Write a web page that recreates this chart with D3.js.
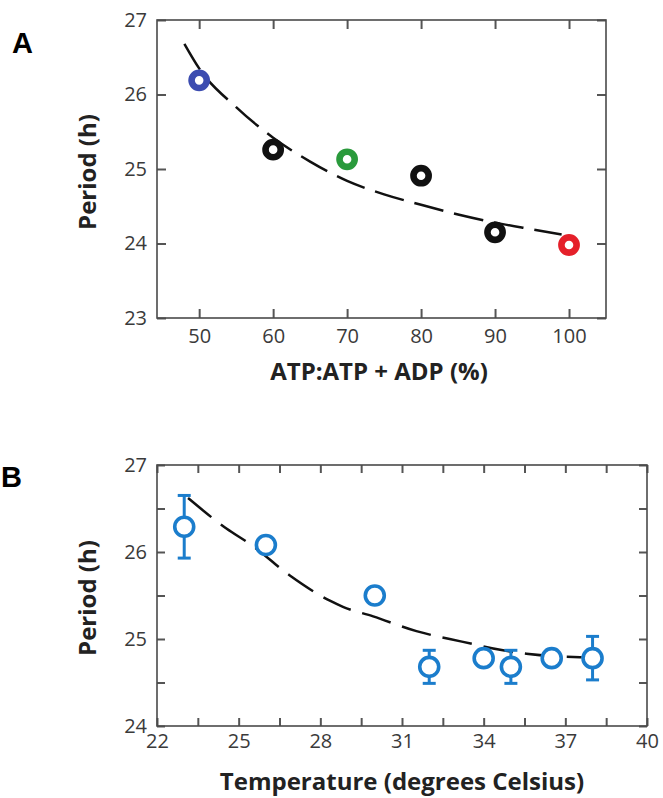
<!DOCTYPE html>
<html><head><meta charset="utf-8">
<script src="https://cdn.jsdelivr.net/npm/d3@7"></script>
<style>
body{margin:0;background:#fff;}
svg{display:block;}
.tick text{font-family:"Open Sans","Noto Sans",sans-serif;font-size:20px;fill:#3a3a3a;}
.tick line{stroke:#555;stroke-width:2;}
.ttl{font-family:"Open Sans","Noto Sans",sans-serif;font-weight:700;font-size:24px;fill:#222;}
</style></head>
<body>
<svg id="c" width="663" height="798"></svg>
<script>
// ---- Panel A data ----
const atpPct = [50, 60, 70, 80, 90, 100];
const atpPeriod = [26.19, 25.26, 25.13, 24.91, 24.15, 23.98];
const atpFitX = [48, 50, 55, 60, 65, 70, 75, 80, 85, 90, 95, 99];
const atpFitY = [26.68, 26.35, 25.83, 25.42, 25.10, 24.84, 24.66, 24.52, 24.39, 24.28, 24.19, 24.12];
const atpXTicks = [50, 60, 70, 80, 90, 100];
const atpYTicks = [23, 24, 25, 26, 27];

// ---- Panel B data ----
const temp = [23, 26, 30, 32, 34, 35, 36.5, 38];
const tempPeriod = [26.29, 26.08, 25.50, 24.68, 24.78, 24.68, 24.78, 24.78];
const tempErr = [0.36, 0, 0, 0.19, 0, 0.19, 0, 0.25];
const tempFitX = [23.14, 24.55, 25.47, 26.88, 28.35, 28.83, 29.94, 31.53, 33.2, 34.71, 35.57, 37.6];
const tempFitY = [26.62, 26.27, 26.08, 25.73, 25.44, 25.37, 25.26, 25.09, 24.97, 24.87, 24.83, 24.79];
const tempXTicks = [22, 23.5, 25, 26.5, 28, 29.5, 31, 32.5, 34, 35.5, 37, 38.5, 40];
const tempXLabels = [22, 25, 28, 31, 34, 37, 40];
const tempYTicks = [24, 24.5, 25, 25.5, 26, 26.5, 27];

const atpColors = ["#3c4cb0", "#111111", "#2a9a3c", "#111111", "#111111", "#e5202a"];
const blue = "#1b7dcc";

const svg = d3.select("#c");
svg.append("rect").attr("width", 663).attr("height", 798).attr("fill", "#fff");

function frame(g, L, R, T, B) {
  g.append("rect").attr("x", L).attr("y", T).attr("width", R - L).attr("height", B - T)
    .attr("fill", "none").attr("stroke", "#4a4a4a").attr("stroke-width", 1.6);
}
function cleanAxis(sel) { sel.select(".domain").remove(); }

// ================= Panel A =================
{
  const L = 157, R = 606, T = 20, B = 318;
  const x = d3.scaleLinear().domain([44.3, 105]).range([L, R]);
  const y = d3.scaleLinear().domain([23, 27]).range([B, T]);
  const g = svg.append("g");

  g.append("g").attr("transform", `translate(0,${B})`)
    .call(d3.axisBottom(x).tickValues(atpXTicks).tickSize(-9).tickPadding(11)).call(cleanAxis);
  g.append("g").attr("transform", `translate(0,${T})`)
    .call(d3.axisTop(x).tickValues(atpXTicks).tickSize(-9).tickFormat("")).call(cleanAxis);
  g.append("g").attr("transform", `translate(${L},0)`)
    .call(d3.axisLeft(y).tickValues(atpYTicks).tickSize(-9).tickPadding(10).tickFormat(d3.format("d"))).call(cleanAxis);
  g.append("g").attr("transform", `translate(${R},0)`)
    .call(d3.axisRight(y).tickValues(atpYTicks).tickSize(-9).tickFormat("")).call(cleanAxis);
  frame(g, L, R, T, B);

  const line = d3.line().x(d => x(d[0])).y(d => y(d[1])).curve(d3.curveMonotoneX);
  g.append("path").datum(d3.zip(atpFitX, atpFitY)).attr("d", line)
    .attr("fill", "none").attr("stroke", "#111").attr("stroke-width", 2.5)
    .attr("stroke-dasharray", "30,11");

  g.selectAll("circle.pt").data(d3.zip(atpPct, atpPeriod, atpColors)).join("circle")
    .attr("class", "pt").attr("cx", d => x(d[0])).attr("cy", d => y(d[1])).attr("r", 7.6)
    .attr("fill", "#fff").attr("stroke", d => d[2]).attr("stroke-width", 6.6);

  svg.append("text").attr("class", "ttl").attr("x", 379).attr("y", 380).attr("text-anchor", "middle")
    .text("ATP:ATP + ADP (%)");
  svg.append("text").attr("class", "ttl").attr("transform", `translate(96,172) rotate(-90)`).attr("text-anchor", "middle")
    .text("Period (h)");
  svg.append("text").attr("x", 12).attr("y", 53)
    .attr("font-family", "'Liberation Sans',Arial,sans-serif").attr("font-weight", 700)
    .attr("font-size", 29).attr("fill", "#000").text("A");
}

// ================= Panel B =================
{
  const L = 157, R = 647, T = 465, B = 726;
  const x = d3.scaleLinear().domain([22, 40]).range([L, R]);
  const y = d3.scaleLinear().domain([24, 27]).range([B, T]);
  const g = svg.append("g");

  g.append("g").attr("transform", `translate(0,${B})`)
    .call(d3.axisBottom(x).tickValues(tempXTicks).tickSize(-8).tickPadding(8)
      .tickFormat(d => tempXLabels.includes(d) ? d : "")).call(cleanAxis);
  g.append("g").attr("transform", `translate(0,${T})`)
    .call(d3.axisTop(x).tickValues(tempXTicks).tickSize(-8).tickFormat("")).call(cleanAxis);
  g.append("g").attr("transform", `translate(${L},0)`)
    .call(d3.axisLeft(y).tickValues(tempYTicks).tickSize(-8).tickPadding(10)
      .tickFormat(d => Number.isInteger(d) ? d : "")).call(cleanAxis);
  g.append("g").attr("transform", `translate(${R},0)`)
    .call(d3.axisRight(y).tickValues(tempYTicks).tickSize(-8).tickFormat("")).call(cleanAxis);
  frame(g, L, R, T, B);

  const line = d3.line().x(d => x(d[0])).y(d => y(d[1])).curve(d3.curveMonotoneX);
  g.append("path").datum(d3.zip(tempFitX, tempFitY)).attr("d", line)
    .attr("fill", "none").attr("stroke", "#111").attr("stroke-width", 2.5)
    .attr("stroke-dasharray", "30,12");

  const pts = d3.zip(temp, tempPeriod, tempErr);
  const eb = g.selectAll("g.eb").data(pts.filter(d => d[2] > 0)).join("g").attr("class", "eb")
    .attr("stroke", blue).attr("stroke-width", 3);
  eb.append("line").attr("x1", d => x(d[0])).attr("x2", d => x(d[0]))
    .attr("y1", d => y(d[1] - d[2])).attr("y2", d => y(d[1] + d[2]));
  eb.append("line").attr("x1", d => x(d[0]) - 6.5).attr("x2", d => x(d[0]) + 6.5)
    .attr("y1", d => y(d[1] + d[2])).attr("y2", d => y(d[1] + d[2]));
  eb.append("line").attr("x1", d => x(d[0]) - 6.5).attr("x2", d => x(d[0]) + 6.5)
    .attr("y1", d => y(d[1] - d[2])).attr("y2", d => y(d[1] - d[2]));

  g.selectAll("circle.pt").data(pts).join("circle").attr("class", "pt")
    .attr("cx", d => x(d[0])).attr("cy", d => y(d[1])).attr("r", 9.5)
    .attr("fill", "#fff").attr("stroke", blue).attr("stroke-width", 3.6);

  svg.append("text").attr("class", "ttl").attr("x", 402).attr("y", 790).attr("text-anchor", "middle")
    .text("Temperature (degrees Celsius)");
  svg.append("text").attr("class", "ttl").attr("transform", `translate(96,598) rotate(-90)`).attr("text-anchor", "middle")
    .text("Period (h)");
  svg.append("text").attr("x", 1).attr("y", 487)
    .attr("font-family", "'Liberation Sans',Arial,sans-serif").attr("font-weight", 700)
    .attr("font-size", 29).attr("fill", "#000").text("B");
}
</script>
</body></html>
